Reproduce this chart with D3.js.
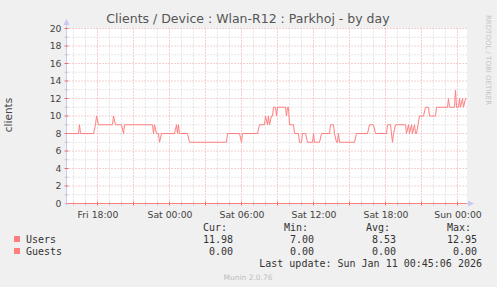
<!DOCTYPE html>
<html>
<head>
<meta charset="utf-8">
<script src="https://cdn.jsdelivr.net/npm/d3@7"></script>
<style>
  body { margin: 0; background: #f0f0f0; }
  svg { display: block; }
</style>
</head>
<body>
<svg id="chart" width="497" height="287"></svg>
<script>
// time in minutes since Fri 00:00, values = clients
var userTimes = [925, 985, 990, 995, 1060, 1070, 1075, 1085, 1155, 1160, 1170, 1200, 1210, 1215,
  1355, 1360, 1365, 1375, 1385, 1390, 1400, 1465, 1475, 1480, 1485, 1490, 1530, 1540,
  1725, 1730, 1790, 1800, 1805, 1880, 1890, 1915, 1920, 1930, 1935, 1940, 1950, 1955, 1960,
  1970, 1975, 1980, 2020, 2025, 2030, 2035, 2040, 2060, 2065, 2085, 2090, 2100, 2105, 2120,
  2130, 2155, 2160, 2165, 2190, 2200, 2240, 2245, 2260, 2265, 2275, 2280, 2285, 2290, 2365,
  2375, 2430, 2440, 2460, 2470, 2525, 2530, 2545, 2550, 2555, 2560, 2570, 2620, 2625, 2635,
  2640, 2650, 2655, 2665, 2670, 2675, 2690, 2710, 2720, 2735, 2740, 2770, 2775, 2830, 2835,
  2840, 2865, 2870, 2875, 2885, 2890, 2895, 2905, 2910, 2920, 2925];
var userValues = [8, 8, 9, 8, 8, 9, 10, 9, 9, 10, 9, 9, 8, 9,
  9, 8, 9, 8, 8, 7, 8, 8, 9, 8, 9, 8, 8, 7,
  7, 8, 8, 7, 8, 8, 9, 9, 10, 9, 10, 9, 10, 10, 11,
  11, 10, 11, 11, 10, 11, 11, 9, 9, 8, 8, 7, 7, 8, 8,
  7, 7, 8, 7, 7, 8, 8, 9, 9, 8, 7, 7, 8, 7, 7,
  8, 8, 9, 9, 8, 8, 9, 9, 8, 7, 8, 9, 9, 8, 9,
  8, 9, 8, 9, 8, 8, 10, 10, 11, 11, 10, 10, 11, 11, 12,
  11, 11, 12.95, 11, 11, 12, 11, 12, 11, 12, 11.98];
var guestTimes = [925, 2925];
var guestValues = [0, 0];

var xTickTimes = [1080, 1440, 1800, 2160, 2520, 2880];
var xTickLabels = ["Fri 18:00", "Sat 00:00", "Sat 06:00", "Sat 12:00", "Sat 18:00", "Sun 00:00"];
var yTicks = [0, 2, 4, 6, 8, 10, 12, 14, 16, 18, 20];

var seriesNames = ["Users", "Guests"];
var curVals = ["11.98", "0.00"];
var minVals = ["7.00", "0.00"];
var avgVals = ["8.53", "0.00"];
var maxVals = ["12.95", "0.00"];

var title = "Clients / Device : Wlan-R12 : Parkhoj - by day";
var lineColor = "#ff7f7f";

var svg = d3.select("#chart");

var x = d3.scaleLinear().domain([925, 2925]).range([66.5, 466.5]);
var y = d3.scaleLinear().domain([0, 20]).range([203.5, 28.5]);

// plot background
svg.append("rect")
    .attr("x", 67).attr("y", 28)
    .attr("width", 400).attr("height", 175)
    .attr("fill", "#ffffff");

// grid - minor every hour / every 1, major every 3 hours / every 2
var grid = svg.append("g").attr("stroke-dasharray", "1,2").attr("stroke-width", 1);

d3.range(960, 2925, 60).forEach(function (t) {
    var major = (t - 1080) % 180 === 0;
    grid.append("line")
        .attr("x1", x(t)).attr("x2", x(t))
        .attr("y1", y(0)).attr("y2", y(20))
        .attr("stroke", major ? "#eca0a0" : "#cfcfcf");
});
d3.range(1, 21).forEach(function (v) {
    grid.append("line")
        .attr("x1", x(925)).attr("x2", x(2925))
        .attr("y1", y(v)).attr("y2", y(v))
        .attr("stroke", v % 2 === 0 ? "#eca0a0" : "#cfcfcf");
});

// axes
var axisColor = "#c8c8f0";
svg.append("line")
    .attr("x1", x(925)).attr("x2", x(925))
    .attr("y1", y(0) + 2).attr("y2", 23)
    .attr("stroke", axisColor);
svg.append("path")
    .attr("d", "M" + (x(925) - 3) + ",25 L" + x(925) + ",19 L" + (x(925) + 3) + ",25 Z")
    .attr("fill", axisColor);
svg.append("line")
    .attr("x1", x(925) - 2).attr("x2", 470)
    .attr("y1", y(0)).attr("y2", y(0))
    .attr("stroke", axisColor);
svg.append("path")
    .attr("d", "M468," + (y(0) - 3) + " L474," + y(0) + " L468," + (y(0) + 3) + " Z")
    .attr("fill", axisColor);

// tick marks
d3.range(960, 2925, 60).forEach(function (t) {
    var major = (t - 1080) % 180 === 0;
    svg.append("line")
        .attr("x1", x(t)).attr("x2", x(t))
        .attr("y1", y(0) - 2).attr("y2", y(0) + 2)
        .attr("stroke", major ? "#e07070" : "#c8c8c8");
});
d3.range(1, 21).forEach(function (v) {
    svg.append("line")
        .attr("x1", x(925) - 2).attr("x2", x(925) + 2)
        .attr("y1", y(v)).attr("y2", y(v))
        .attr("stroke", v % 2 === 0 ? "#e07070" : "#c8c8c8");
});

// tick labels
var xAxis = svg.append("g")
    .attr("transform", "translate(0," + y(0) + ")")
    .call(d3.axisBottom(x).tickValues(xTickTimes)
        .tickFormat(function (d, i) { return xTickLabels[i]; })
        .tickSize(0).tickPadding(8));
xAxis.select(".domain").remove();
xAxis.selectAll("text")
    .attr("font-family", "DejaVu Sans").attr("font-size", "9.3px").attr("fill", "#444");

var yAxis = svg.append("g")
    .attr("transform", "translate(" + x(925) + ",0)")
    .call(d3.axisLeft(y).tickValues(yTicks).tickSize(0).tickPadding(5));
yAxis.select(".domain").remove();
yAxis.selectAll("text")
    .attr("font-family", "DejaVu Sans").attr("font-size", "9.3px").attr("fill", "#444");

// data lines
var line = d3.line()
    .x(function (d) { return x(d[0]); })
    .y(function (d) { return y(d[1]); });

svg.append("path")
    .datum(d3.zip(guestTimes, guestValues))
    .attr("d", line)
    .attr("fill", "none").attr("stroke", lineColor).attr("stroke-width", 1);
svg.append("path")
    .datum(d3.zip(userTimes, userValues))
    .attr("d", line)
    .attr("fill", "none").attr("stroke", lineColor).attr("stroke-width", 1);

// title and labels
svg.append("text")
    .attr("x", 248).attr("y", 23)
    .attr("text-anchor", "middle")
    .attr("font-family", "DejaVu Sans").attr("font-size", "12.5px")
    .attr("fill", "#555")
    .text(title);

svg.append("text")
    .attr("transform", "translate(12,115) rotate(-90)")
    .attr("text-anchor", "middle")
    .attr("font-family", "DejaVu Sans").attr("font-size", "10.5px")
    .attr("fill", "#444")
    .text("clients");

svg.append("text")
    .attr("transform", "translate(486,15) rotate(90)")
    .attr("font-family", "DejaVu Sans").attr("font-size", "7px")
    .attr("fill", "#c4c4c4")
    .text("RRDTOOL / TOBI OETIKER");

// legend
var mono = "DejaVu Sans Mono";
var legend = svg.append("g")
    .attr("font-family", mono).attr("font-size", "10px").attr("fill", "#333");

var colHead = ["Cur:", "Min:", "Avg:", "Max:"];
var colLeft = [203, 284, 366, 447];
var colRight = [233, 314, 396, 477];
var cols = [curVals, minVals, avgVals, maxVals];

colHead.forEach(function (h, i) {
    legend.append("text").attr("x", colLeft[i]).attr("y", 231).text(h);
});
seriesNames.forEach(function (name, r) {
    var yy = 243 + r * 12;
    svg.append("rect")
        .attr("x", 14).attr("y", yy - 7)
        .attr("width", 6).attr("height", 6)
        .attr("fill", lineColor);
    legend.append("text").attr("x", 26).attr("y", yy).text(name);
    cols.forEach(function (c, i) {
        legend.append("text").attr("x", colRight[i]).attr("y", yy)
            .attr("text-anchor", "end").text(c[r]);
    });
});
legend.append("text")
    .attr("x", 482).attr("y", 267)
    .attr("text-anchor", "end")
    .text("Last update: Sun Jan 11 00:45:06 2026");

svg.append("text")
    .attr("x", 248).attr("y", 280)
    .attr("text-anchor", "middle")
    .attr("font-family", "DejaVu Sans").attr("font-size", "7.5px")
    .attr("fill", "#bdbdbd")
    .text("Munin 2.0.76");
</script>
</body>
</html>
